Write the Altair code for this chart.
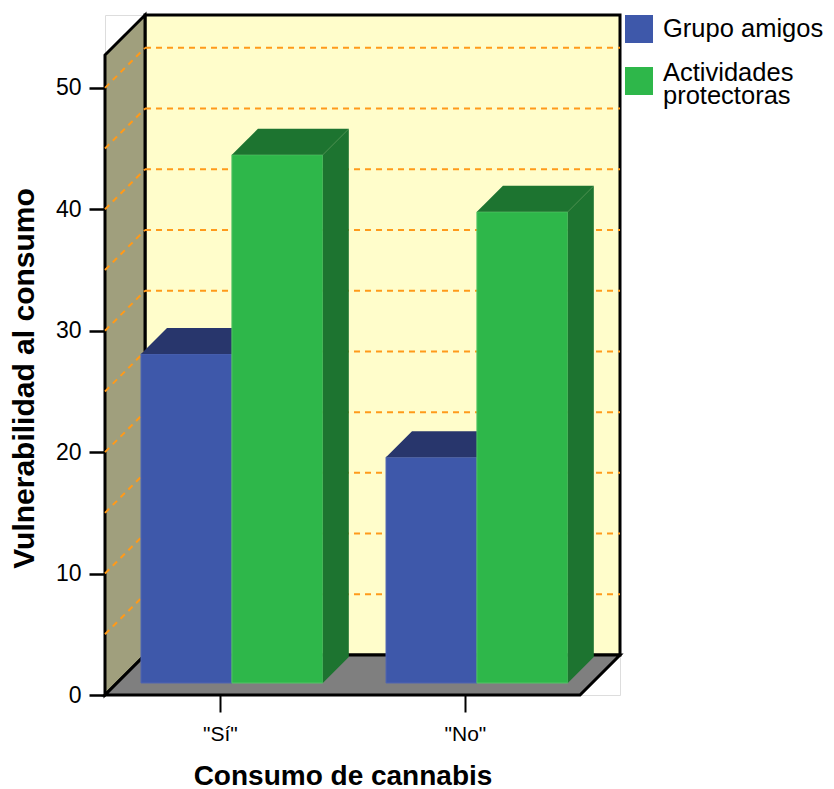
import json
import altair as alt
import pandas as pd

# ---------------- data ----------------
CATEGORIES = ['"Sí"', '"No"']
SERIES = ["Grupo amigos", "Actividades protectoras"]
GRUPO_AMIGOS = [27.1, 18.6]
ACTIVIDADES = [43.5, 38.8]
Y_TICKS = [0, 10, 20, 30, 40, 50]
GRID_VALUES = [5, 10, 15, 20, 25, 30, 35, 40, 45, 50]

# ---------------- styles / geometry (data units) ----------------
FRONT_COLORS = ["#3E58AA", "#2EB74A"]
DARK_COLORS = ["#28366C", "#1D7430"]
EDGE_COLORS = ["#5166B2", "#52C566"]
BACK_WALL = "#FFFDCB"
SIDE_WALL = "#A09F7D"
FLOOR = "#7F7F7F"
GRID = "#FF9A1A"
FONT = "Liberation Sans"

X_MIN, X_MAX = 0.531, 2.633     # category axis extent
DX, DY = 0.1633, 3.295          # 3-D depth offset in x / y data units
Y_MAX = 56.0
BAR_W = 0.371
Z_FRONT, Z_BACK = 0.30, 0.95
W, H = 515, 680

xs = alt.Scale(domain=[X_MIN, X_MAX], nice=False, zero=False)
ys = alt.Scale(domain=[0, Y_MAX], nice=False, zero=False)

label_expr = json.dumps(CATEGORIES, ensure_ascii=False) + "[round(datum.value) - 1]"

x_axis = alt.Axis(values=[1, 2], labelExpr=label_expr, domain=False, grid=False,
                  ticks=True, tickSize=17, tickWidth=2, tickColor="black",
                  labelFont=FONT, labelFontSize=21, labelColor="black", labelPadding=11,
                  title="Consumo de cannabis", titleFont=FONT, titleFontSize=28,
                  titleFontWeight="bold", titleColor="black", titleX=237.5, titleY=89,
                  titleAlign="center", titleBaseline="alphabetic")
y_axis = alt.Axis(values=Y_TICKS, domain=False, grid=False, tickSize=16, tickWidth=2.5,
                  tickColor="black", labelFont=FONT, labelFontSize=23, labelColor="black",
                  labelPadding=8,
                  title="Vulnerabilidad al consumo", titleFont=FONT, titleFontSize=30,
                  titleFontWeight="bold", titleColor="black", titleX=-72, titleY=363,
                  titleAlign="center", titleBaseline="alphabetic", titleAngle=270)


def X(f):
    return alt.X(f, scale=xs, axis=x_axis)


def Y(f):
    return alt.Y(f, scale=ys, axis=y_axis)


def make_legend(y, baseline):
    return alt.Legend(title=None, orient="none", legendX=520, legendY=y, padding=0,
                      symbolType="square", symbolSize=784, symbolStrokeWidth=0,
                      symbolOpacity=1, labelFont=FONT, labelFontSize=25.5, labelColor="black",
                      labelLimit=400, labelOffset=10, labelBaseline=baseline,
                      labelExpr="split(datum.label, '|')")


LEGEND_LABELS = ["Grupo amigos", "Actividades|protectoras"]
legends = [make_legend(0, "middle"), make_legend(52, "alphabetic")]

layers = []

# back wall
back = pd.DataFrame({"x": [X_MIN + DX], "x2": [X_MAX], "y": [DY], "y2": [Y_MAX]})
layers.append(alt.Chart(back).mark_rect(fill=BACK_WALL, stroke="black", strokeWidth=3).encode(
    x=X("x:Q"), x2="x2:Q", y=Y("y:Q"), y2="y2:Q"))

# left wall
side = pd.DataFrame({"x": [X_MIN, X_MIN + DX], "y": [0, DY], "y2": [Y_MAX - DY, Y_MAX]})
layers.append(alt.Chart(side).mark_area(orient="vertical", fill=SIDE_WALL, stroke="black",
                                         strokeWidth=3).encode(
    x=X("x:Q"), y=Y("y:Q"), y2="y2:Q"))

# floor
floor = pd.DataFrame({"y": [0, DY], "x": [X_MIN, X_MIN + DX], "x2": [X_MAX - DX, X_MAX]})
layers.append(alt.Chart(floor).mark_area(orient="horizontal", fill=FLOOR, stroke="black",
                                          strokeWidth=3).encode(
    y=Y("y:Q"), x=X("x:Q"), x2="x2:Q"))

# grid lines on back wall and diagonals on the left wall
grid_df = pd.DataFrame({"v": GRID_VALUES})
grid_df["yb"] = grid_df["v"] + DY
grid_df["xa"] = X_MIN + DX
grid_df["xb"] = X_MAX
grid_df["x0"] = X_MIN
layers.append(alt.Chart(grid_df).mark_rule(color=GRID, strokeWidth=2, strokeDash=[6, 5]).encode(
    x=X("xa:Q"), x2="xb:Q", y=Y("yb:Q")))
layers.append(alt.Chart(grid_df).mark_rule(color=GRID, strokeWidth=2, strokeDash=[6, 5]).encode(
    x=X("x0:Q"), x2="xa:Q", y=Y("v:Q"), y2="yb:Q"))

# bars: for each series draw front faces, then top faces, then side faces
for si, (serie, vals) in enumerate(zip(SERIES, [GRUPO_AMIGOS, ACTIVIDADES])):
    fr, tp, sd = [], [], []
    for ci, cat in enumerate(CATEGORIES):
        v = vals[ci]
        x0 = (ci + 1) - BAR_W + si * BAR_W
        x1 = x0 + BAR_W
        fr.append({"serie": LEGEND_LABELS[si], "x": x0 + Z_FRONT * DX,
                   "x2": x1 + Z_FRONT * DX, "y": Z_FRONT * DY, "y2": v + Z_FRONT * DY})
        for z in (Z_FRONT, Z_BACK):
            tp.append({"bar": cat, "y": v + z * DY, "x": x0 + z * DX, "x2": x1 + z * DX})
            sd.append({"bar": cat, "x": x1 + z * DX, "y": z * DY, "y2": v + z * DY})
    layers.append(alt.Chart(pd.DataFrame(fr)).mark_rect(
        stroke=EDGE_COLORS[si], strokeWidth=1).encode(
        x=X("x:Q"), x2="x2:Q", y=Y("y:Q"), y2="y2:Q",
        fill=alt.Fill("serie:N", scale=alt.Scale(domain=[LEGEND_LABELS[si]],
                                                 range=[FRONT_COLORS[si]]),
                      legend=legends[si])))
    layers.append(alt.Chart(pd.DataFrame(tp)).mark_area(
        orient="horizontal", fill=DARK_COLORS[si]).encode(
        y=Y("y:Q"), x=X("x:Q"), x2="x2:Q", detail="bar:N"))
    layers.append(alt.Chart(pd.DataFrame(sd)).mark_area(
        orient="vertical", fill=DARK_COLORS[si]).encode(
        x=X("x:Q"), y=Y("y:Q"), y2="y2:Q", detail="bar:N"))

chart = alt.layer(*layers).resolve_scale(fill="independent").properties(
    width=W, height=H, autosize="none",
    padding={"left": 97, "top": 7, "right": 206, "bottom": 94},
).configure_view(stroke=None).configure(style={"guide-label": {"lineHeight": 23}})

chart.save("out.html", embed_options={"renderer": "svg", "actions": False})
